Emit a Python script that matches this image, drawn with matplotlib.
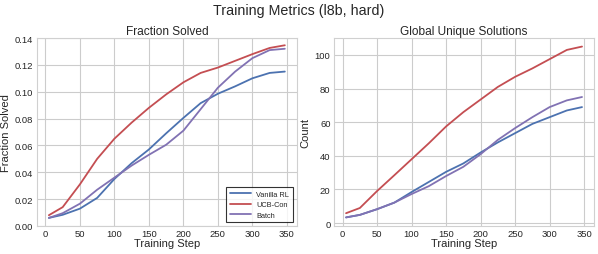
import matplotlib
matplotlib.use("Agg")
import matplotlib.pyplot as plt
import seaborn as sns

sns.set_style("whitegrid")
plt.rcParams['font.family'] = ['Liberation Sans', 'DejaVu Sans']

steps = [5, 25, 50, 75, 100, 125, 150, 175, 200, 225, 250, 275, 300, 325, 347]

frac_vanilla = [0.006, 0.0083, 0.0129, 0.0209, 0.035, 0.0468, 0.057, 0.069, 0.0805, 0.0915, 0.0985, 0.104, 0.110, 0.114, 0.115]
frac_ucb = [0.008, 0.014, 0.031, 0.050, 0.065, 0.077, 0.088, 0.098, 0.107, 0.114, 0.118, 0.123, 0.128, 0.1326, 0.1346]
frac_batch = [0.006, 0.0095, 0.0166, 0.027, 0.036, 0.045, 0.053, 0.0605, 0.071, 0.087, 0.103, 0.115, 0.125, 0.131, 0.132]

uniq_vanilla = [3.4, 4.9, 8.3, 12.2, 18.5, 24.5, 30.5, 35.5, 42, 48, 53.5, 59, 63, 67, 69]
uniq_ucb = [5.9, 9, 19.1, 28.5, 38, 47.5, 57.5, 66, 73.5, 81, 87, 92, 97.5, 103, 105]
uniq_batch = [3.4, 4.9, 8.3, 12.2, 17.3, 22, 28, 33.5, 41, 49.5, 56.5, 63, 69, 73, 75]

labels = ["Vanilla RL", "UCB-Con", "Batch"]
colors = ["#4c72b0", "#c44e52", "#8172b3"]

fig, (ax1, ax2) = plt.subplots(1, 2, figsize=(5.98, 2.55), dpi=100)
fig.subplots_adjust(left=0.062, right=0.993, bottom=0.11, top=0.847, wspace=0.145)

for ys, lab, c in zip([frac_vanilla, frac_ucb, frac_batch], labels, colors):
    ax1.plot(steps, ys, color=c, label=lab, lw=1.3)
for ys, lab, c in zip([uniq_vanilla, uniq_ucb, uniq_batch], labels, colors):
    ax2.plot(steps, ys, color=c, label=lab, lw=1.3)

ax1.set_title("Fraction Solved", fontsize=8.6, pad=3)
ax1.set_xlabel("Training Step", fontsize=8, labelpad=0)
ax1.set_ylabel("Fraction Solved", fontsize=8, labelpad=3)
ax1.set_ylim(0, 0.14)
ax1.set_xticks(range(0, 351, 50))
leg = ax1.legend(loc="lower right", fontsize=5.3, frameon=True, fancybox=False,
                 borderpad=0.5, handlelength=2.8, labelspacing=0.45,
                 borderaxespad=0.5)
leg.get_frame().set_edgecolor("black")
leg.get_frame().set_linewidth(0.8)

ax2.set_title("Global Unique Solutions", fontsize=8.6, pad=3)
ax2.set_xlabel("Training Step", fontsize=8, labelpad=0)
ax2.set_ylabel("Count", fontsize=8, labelpad=3)
ax2.set_xticks(range(0, 351, 50))

for ax in (ax1, ax2):
    ax.tick_params(labelsize=6.8, pad=1, length=1.5, color="#d0d0d0")
    ax.tick_params(axis="y", pad=1.2)
    for s in ax.spines.values():
        s.set_edgecolor("#d0d0d0")

fig.suptitle("Training Metrics (l8b, hard)", fontsize=10.3, y=0.985)
fig.savefig("out.png", dpi=100)
